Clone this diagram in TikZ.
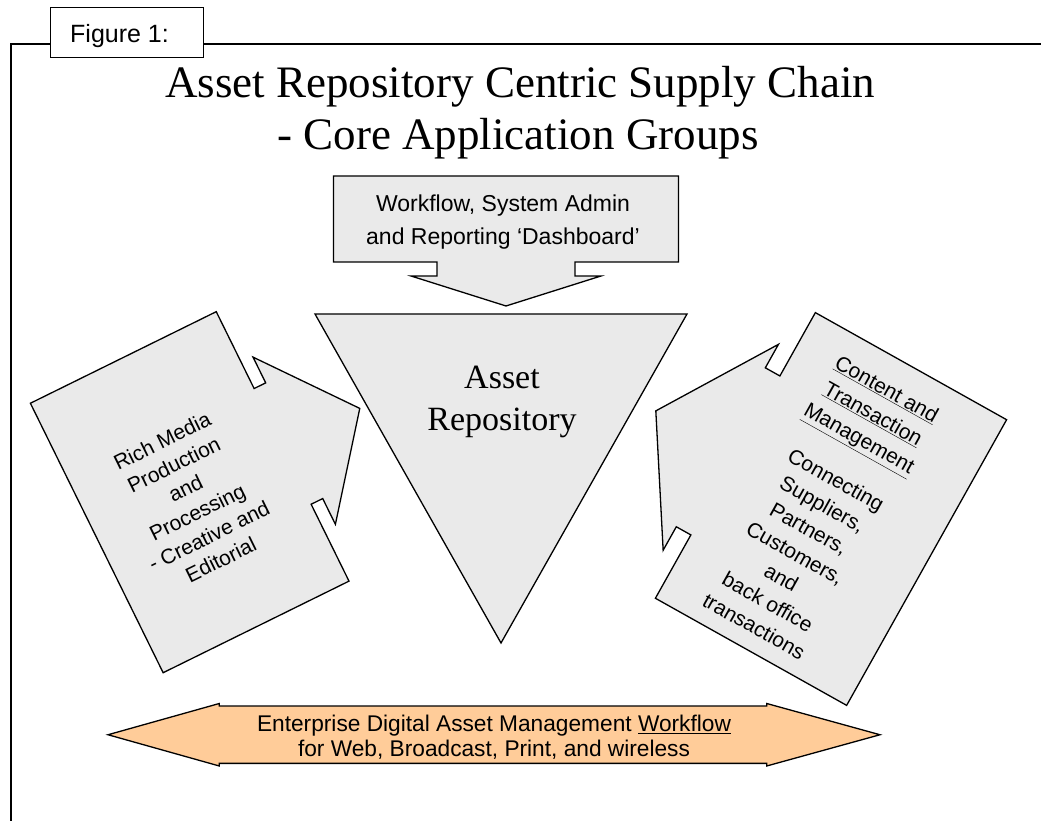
\documentclass[tikz,border=0pt]{standalone}
\usepackage{fontspec}
\setmainfont{Liberation Serif}
\setsansfont{Liberation Sans}
\usetikzlibrary{math}
\definecolor{boxgray}{RGB}{234,234,234}
\definecolor{peach}{RGB}{255,204,153}
\tikzstyle{calloutshape} = [draw=black, fill=boxgray, line width=1.3pt, line join=miter]
\tikzstyle{boxtext} = [font=\sffamily\fontsize{21}{26.5}\selectfont, align=center, inner sep=0pt]
\tikzstyle{titletext} = [font=\rmfamily\fontsize{45}{52}\selectfont, align=center, inner sep=0pt]

\begin{document}
\begin{tikzpicture}[x=1pt, y=1pt]

  \useasboundingbox (0,0) rectangle (1041,821);

  % frame and figure tab
  \draw[line width=2pt] (10.5,0) -- (10.5,777) -- (1041,777);
  \draw[fill=white, line width=1pt] (50,763) rectangle (203,813);
  \node[font=\sffamily\fontsize{25}{30}\selectfont, anchor=base west, inner sep=0pt] (figtab) at (70,778) {Figure 1:};

  % title
  \node[titletext, anchor=base] (title1) at (520,723) {Asset Repository Centric Supply Chain};
  \node[titletext, anchor=base] (title2) at (518,671) {- Core Application Groups};

  % dashboard arrow
  \begin{scope}
    \tikzmath{\cx = 506; \bw = 172.5; \sw = 69; \hw = 95; \yt = 645; \yb = 559; \ys = 545; \yp = 515;}
    \draw[calloutshape] (\cx-\bw,\yt) -- (\cx+\bw,\yt) -- (\cx+\bw,\yb) -- (\cx+\sw,\yb) -- (\cx+\sw,\ys)
      -- (\cx+\hw,\ys) -- (\cx,\yp) -- (\cx-\hw,\ys) -- (\cx-\sw,\ys) -- (\cx-\sw,\yb) -- (\cx-\bw,\yb) -- cycle;
    \node[boxtext, font=\sffamily\fontsize{23}{33}\selectfont] (dashboard) at (503,599)
      {Workflow, System Admin\\and Reporting ‘Dashboard’};
  \end{scope}

  % repository triangle
  \draw[calloutshape] (315,507) -- (687,507) -- (501,178) -- cycle;
  \node[titletext, font=\rmfamily\fontsize{34}{42}\selectfont] (repo) at (502,419.5) {Asset\\Repository};

  % rich media callout
  \begin{scope}[shift={(189.7,328.8)}, rotate=26.23]
    \tikzmath{\w = 103.6; \h = 150.2; \s = 64.5; \sl = 12.9; \hb = 93.2; \hl = 73.1;}
    \draw[calloutshape] (-\w,-\h) -- (\w,-\h) -- (\w,-\s) -- (\w+\sl,-\s) -- (\w+\sl,-\hb) -- (\w+\sl+\hl,0)
      -- (\w+\sl,\hb) -- (\w+\sl,\s) -- (\w,\s) -- (\w,\h) -- (-\w,\h) -- cycle;
    \node[boxtext, rotate=26.23] (richmedia) at (-2,-8)
      {Rich Media\\Production\\and\\Processing\\- Creative and\\Editorial};
  \end{scope}

  % content callout
  \begin{scope}[shift={(831,312)}, rotate=-29.25]
    \tikzmath{\w = 109.6; \h = 163.7; \s = 91.1; \sl = 16.7; \hb = 118; \hl = 74.5;}
    \draw[calloutshape] (\w,-\h) -- (-\w,-\h) -- (-\w,-\s) -- (-\w-\sl,-\s) -- (-\w-\sl,-\hb) -- (-\w-\sl-\hl,0)
      -- (-\w-\sl,\hb) -- (-\w-\sl,\s) -- (-\w,\s) -- (-\w,\h) -- (\w,\h) -- cycle;
    \node[boxtext, font=\sffamily\fontsize{21}{28}\selectfont, rotate=-29.25] (content) at (-9.8,-3.8)
      {\underline{Content and}\\\underline{Transaction}\\\underline{Management}\\[20pt]Connecting\\Suppliers,\\Partners,\\Customers,\\and\\back office\\transactions};
  \end{scope}

  % workflow double arrow
  \begin{scope}
    \tikzmath{\yc = 86.25; \sh = 28.65; \hh = 31.25; \xl = 108; \xr = 880; \bl = 219.3; \br = 766.7;}
    \draw[fill=peach, line width=1.3pt] (\xl,\yc) -- (\bl,\yc+\hh) -- (\bl,\yc+\sh) -- (\br,\yc+\sh) -- (\br,\yc+\hh)
      -- (\xr,\yc) -- (\br,\yc-\hh) -- (\br,\yc-\sh) -- (\bl,\yc-\sh) -- (\bl,\yc-\hh) -- cycle;
    \node[boxtext, font=\sffamily\fontsize{22.7}{24.5}\selectfont] (workflow) at (494,84)
      {Enterprise Digital Asset Management \underline{Workflow}\\for Web, Broadcast, Print, and wireless};
  \end{scope}

\end{tikzpicture}
\end{document}
